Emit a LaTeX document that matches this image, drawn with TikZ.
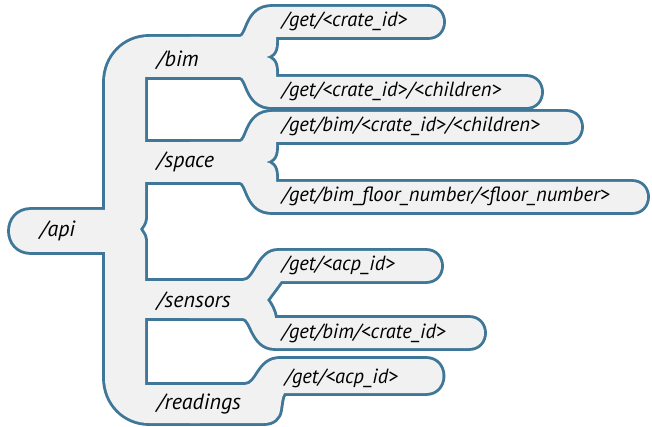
\documentclass[tikz,border=0pt]{standalone}
\usepackage{fontspec}
\setmainfont{PT Sans}
\definecolor{edge}{HTML}{3F7799}
\definecolor{body}{HTML}{F1F1F1}
\tikzset{
  lbl/.style={inner sep=0pt, anchor=base west, font=\itshape\fontsize{22}{26}\selectfont, text=black},
  tabtxt/.style={inner sep=0pt, anchor=base west, font=\itshape\fontsize{20.5}{24}\selectfont, text=black},
}
% brace piece: #1 bar top, #2 bar bottom, #3 right end of upper tab, #4 right end of lower tab
\newcommand\bracep[4]{%
 (190,#1) -- (240,#1) .. controls (248,#1) and (246,{#1-30}) .. (272,{#1-30})
 -- ({#3-15},{#1-30}) .. controls ({#3+5},{#1-30}) and ({#3+5},#1) .. ({#3-15},#1)
 -- (276,#1) -- (276,{#1+6})
 .. controls (276,{(#1+#2)/2-4}) and (271,{(#1+#2)/2-1}) .. (266,{(#1+#2)/2})
 .. controls (271,{(#1+#2)/2+1}) and (276,{(#1+#2)/2+4}) .. (276,{#2-6})
 -- (276,#2) -- ({#4-15},#2) .. controls ({#4+5},#2) and ({#4+5},{#2+30}) .. ({#4-15},{#2+30})
 -- (272,{#2+30}) .. controls (246,{#2+30}) and (248,#2) .. (240,#2) -- (190,#2) -- cycle}
\newcommand\allpieces[1]{%
 % /api tab
 \path[#1] (120,210) -- (31,210) .. controls (3,210) and (3,252) .. (31,252) -- (120,252) -- cycle;
 % main stem with /bim and /readings bars
 \path[#1] (200,37) -- (149,37) .. controls (124,37) and (105,57) .. (105,82) -- (105,378)
   .. controls (105,403) and (124,423) .. (149,423) -- (200,423) -- (200,385) -- (145,385)
   -- (145,240) .. controls (145,235) and (141,232) .. (140,229)
   .. controls (142,226) and (145,223) .. (145,218) -- (145,77) -- (200,77) -- cycle;
 % /space and /sensors bars
 \path[#1] (140,142) rectangle (200,182);
 \path[#1] (140,281) rectangle (200,318);
 % braces
 \path[#1] \bracep{37}{77}{443}{541};
 \path[#1] \bracep{142}{182}{581}{647};
 % sensors brace
 \path[#1] (190,281) -- (243,281) .. controls (256,281) and (258,251) .. (278,251)
   -- (426,251) .. controls (446,251) and (446,281) .. (426,281) -- (281,281)
   .. controls (276,288) and (270,296) .. (267,300) .. controls (270,304) and (274,310) .. (275,318)
   -- (469,318) .. controls (489,318) and (489,348) .. (469,348) -- (275,348)
   .. controls (252,348) and (252,318) .. (243,318) -- (190,318) -- cycle;
 % readings tab
 \path[#1] (190,385) -- (245,385) .. controls (258,385) and (258,359) .. (280,359)
   -- (426,359) .. controls (448,359) and (448,393) .. (426,393) -- (284,393)
   .. controls (281,398) and (281,405) .. (280,410) .. controls (279,418) and (273,423) .. (264,423)
   -- (190,423) -- cycle;
}
\begin{document}
\begin{tikzpicture}[x=1pt,y=-1pt]
\useasboundingbox (0,0) rectangle (652,427);
\allpieces{draw=edge, line width=5.8pt, line join=round}
\allpieces{fill=body}
\node[lbl] (api) at (40,237) {/api};
\node[lbl] (bim) at (157,67) {/bim};
\node[lbl] (space) at (157,168) {/space};
\node[lbl] (sensors) at (157,307) {/sensors};
\node[lbl] (readings) at (157,409) {/readings};
\node[tabtxt] (t1) at (282,27) {/get/<crate\_id>};
\node[tabtxt] (t2) at (282,97) {/get/<crate\_id>/<children>};
\node[tabtxt] (t3) at (282,132) {/get/bim/<crate\_id>/<children>};
\node[tabtxt] (t4) at (282,202) {/get/bim\_floor\_number/<floor\_number>};
\node[tabtxt] (t5) at (282,270) {/get/<acp\_id>};
\node[tabtxt] (t6) at (282,338) {/get/bim/<crate\_id>};
\node[tabtxt] (t7) at (285,383) {/get/<acp\_id>};
\end{tikzpicture}
\end{document}
